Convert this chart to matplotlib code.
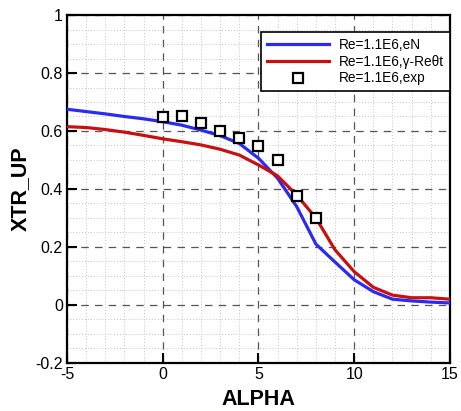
import numpy as np
import matplotlib.pyplot as plt
from matplotlib.ticker import MultipleLocator

plt.rcParams['font.family'] = ['Liberation Sans', 'DejaVu Sans']
plt.rcParams['axes.unicode_minus'] = False

# Data
alpha = [-5, -4, -3, -2, -1, 0, 1, 2, 3, 4, 5, 6, 7, 8, 9, 10, 11, 12, 13, 14, 15]
xtr_en = [0.675, 0.667, 0.659, 0.650, 0.642, 0.632, 0.620, 0.603, 0.584, 0.557, 0.506,
          0.437, 0.339, 0.210, 0.148, 0.087, 0.046, 0.020, 0.014, 0.010, 0.007]
xtr_gre = [0.615, 0.612, 0.605, 0.596, 0.585, 0.573, 0.563, 0.552, 0.537, 0.517, 0.483,
           0.445, 0.379, 0.300, 0.190, 0.115, 0.061, 0.034, 0.025, 0.025, 0.020]
alpha_exp = [0, 1, 2, 3, 4, 5, 6, 7, 8]
xtr_exp = [0.649, 0.651, 0.627, 0.600, 0.575, 0.549, 0.500, 0.376, 0.300]

labels = ['Re=1.1E6,eN', 'Re=1.1E6,\u03b3-Re\u03b8t', 'Re=1.1E6,exp']

fig = plt.figure(figsize=(4.61, 4.11), dpi=100)
ax = fig.add_axes([0.1453, 0.1168, 0.8307, 0.8467])

ax.plot(alpha, xtr_en, color='#2b2bf0', lw=2.3, label=labels[0], zorder=3)
ax.plot(alpha, xtr_gre, color='#c81010', lw=2.3, label=labels[1], zorder=3)
ax.plot(alpha_exp, xtr_exp, ls='none', marker='s', ms=7, mfc='white', mec='black',
        mew=1.6, label=labels[2], zorder=4)

ax.set_xlim(-5, 15)
ax.set_ylim(-0.2, 1)
ax.xaxis.set_major_locator(MultipleLocator(5))
ax.xaxis.set_minor_locator(MultipleLocator(1))
ax.yaxis.set_major_locator(MultipleLocator(0.2))
ax.yaxis.set_minor_locator(MultipleLocator(0.05))
ax.yaxis.set_major_formatter(lambda v, p: f'{v:g}' if abs(v) > 1e-9 else '0')

ax.grid(which='major', color='#555555', ls=(0, (6, 5)), lw=0.9)
ax.grid(which='minor', color='#c4c4c4', ls=(0, (1, 2)), lw=0.7)
ax.set_axisbelow(True)

ax.tick_params(which='major', direction='in', length=7, width=1.5, labelsize=11.5,
               top=False, right=False, pad=3)
ax.tick_params(which='minor', direction='in', length=0)
for s in ax.spines.values():
    s.set_linewidth(1.6)

ax.set_xlabel('ALPHA', fontsize=15.5, fontweight='bold', labelpad=5)
ax.set_ylabel('XTR_UP', fontsize=15.5, fontweight='bold', labelpad=3)

leg = ax.legend(loc='upper right', bbox_to_anchor=(1.0, 0.952), borderaxespad=0,
                fontsize=9.8, frameon=True, fancybox=False, edgecolor='black',
                framealpha=1, handlelength=4.6, borderpad=0.45, labelspacing=0.2,
                handletextpad=0.7)
leg.get_frame().set_linewidth(1.2)

fig.savefig('out.png', dpi=100)
